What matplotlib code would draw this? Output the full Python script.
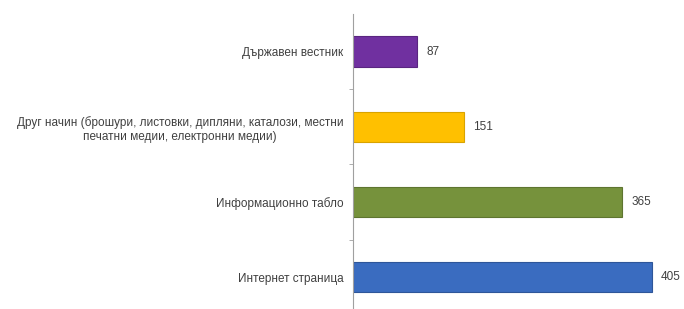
import matplotlib
matplotlib.use('Agg')
import matplotlib.pyplot as plt

# --------------------------
# Data (top to bottom)
# --------------------------
categories = [
    'Държавен вестник',
    'Друг начин (брошури, листовки, дипляни, каталози, местни\nпечатни медии, електронни медии)',
    'Информационно табло',
    'Интернет страница',
]
values = [87, 151, 365, 405]
colors = ['#7030A0', '#FFC000', '#76923C', '#3A6CC0']
edge_colors = ['#5A2580', '#D9A300', '#5E7530', '#2E5699']

plt.rcParams['font.family'] = ['Liberation Sans', 'DejaVu Sans']

fig = plt.figure(figsize=(6.84, 3.09), dpi=100)
ax = fig.add_axes([353 / 684, -0.019, 332 / 684, 0.974])

y_pos = list(range(len(categories)))
ax.barh(y_pos, values, height=0.4, color=colors, edgecolor=edge_colors, linewidth=0.8)

for y, v in zip(y_pos, values):
    ax.text(v + 12, y, str(v), va='center', ha='left', fontsize=8.5, color='#404040')

ax.set_ylim(len(categories) - 0.5, -0.5)
ax.set_xlim(0, 450)
ax.set_yticks(y_pos)
ax.set_yticklabels(categories, fontsize=8.5, color='#404040', multialignment='center')
ax.set_yticks([i + 0.5 for i in range(len(categories) - 1)], minor=True)
ax.tick_params(axis='y', which='major', length=0, pad=7)
ax.tick_params(axis='y', which='minor', length=3, color='#A0A0A0')

ax.set_xticks([])
for side in ['top', 'right', 'bottom']:
    ax.spines[side].set_visible(False)
ax.spines['left'].set_color('#A0A0A0')
ax.patch.set_alpha(0)

plt.savefig('out.png', dpi=100)
